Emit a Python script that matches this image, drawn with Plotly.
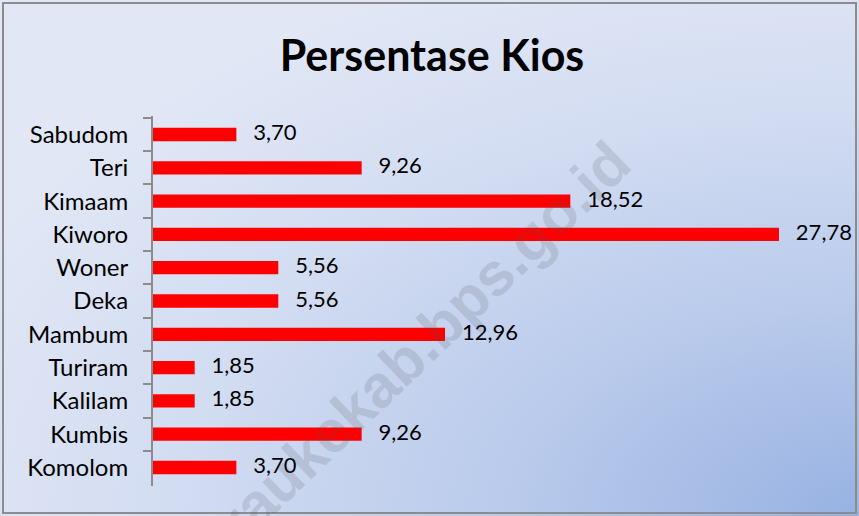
import plotly.graph_objects as go
import urllib.parse

categories = ["Sabudom", "Teri", "Kimaam", "Kiworo", "Woner", "Deka",
              "Mambum", "Turiram", "Kalilam", "Kumbis", "Komolom"]
values = [3.70, 9.26, 18.52, 27.78, 5.56, 5.56, 12.96, 1.85, 1.85, 9.26, 3.70]
labels = [f"{v:.2f}".replace(".", ",") for v in values]

W, H = 859, 516
L, R, T, B = 153, 30, 116, 30
pw, ph = W - L - R, H - T - B

svg = (
    f'<svg xmlns="http://www.w3.org/2000/svg" width="{W}" height="{H}" preserveAspectRatio="none">'
    '<defs><radialGradient id="g" cx="1" cy="1" r="1.15" fx="1" fy="1" gradientUnits="objectBoundingBox">'
    '<stop offset="0" stop-color="#97b2e2"/>'
    '<stop offset="0.35" stop-color="#b9caeb"/>'
    '<stop offset="0.7" stop-color="#d3ddf2"/>'
    '<stop offset="1" stop-color="#e1e7f5"/>'
    '</radialGradient></defs>'
    f'<rect x="0" y="0" width="{W}" height="{H}" fill="url(#g)"/></svg>'
)
src = "data:image/svg+xml;charset=utf-8," + urllib.parse.quote(svg)

FONT = "Lato"

fig = go.Figure()
fig.add_trace(go.Bar(
    x=values, y=categories, orientation="h",
    marker=dict(color="#ff0000", line=dict(width=0)),
    width=0.4, hoverinfo="x+y",
))
fig.add_trace(go.Scatter(
    x=values, y=categories, mode="text",
    text=["   " + s for s in labels], textposition="middle right",
    textfont=dict(family=FONT, size=22, color="#000000"),
    hoverinfo="skip", showlegend=False, cliponaxis=False,
))

def px_to_paper_x(px):
    return (px - L) / pw

def py_to_paper_y(py):
    return 1 - (py - T) / ph

fig.update_layout(
    width=W, height=H,
    margin=dict(l=L, r=R, t=T, b=B),
    paper_bgcolor="#d6dff2",
    plot_bgcolor="rgba(0,0,0,0)",
    showlegend=False,
    title=dict(text="<b>Persentase Kios</b>", x=432 / W, xref="container", xanchor="center",
               y=1 - 56 / H, yref="container", yanchor="middle",
               font=dict(family=FONT, size=43, color="#000000")),
    xaxis=dict(range=[0, 30], visible=False, fixedrange=True),
    yaxis=dict(autorange="reversed", type="category",
               showline=True, linecolor="#8c8c8c", linewidth=2,
               ticks="outside", tickson="boundaries", ticklen=8, tickwidth=2,
               tickcolor="#8c8c8c", showgrid=False,
               tickfont=dict(family=FONT, size=24, color="#000000"),
               ticklabelstandoff=18),
    images=[dict(source=src, xref="paper", yref="paper",
                 x=px_to_paper_x(0), y=py_to_paper_y(0),
                 sizex=W / pw, sizey=H / ph, sizing="stretch",
                 xanchor="left", yanchor="top", layer="below", opacity=1)],
    shapes=[dict(type="rect", xref="paper", yref="paper",
                 x0=px_to_paper_x(3), x1=px_to_paper_x(856),
                 y0=py_to_paper_y(3), y1=py_to_paper_y(513),
                 line=dict(color="#8c8c8c", width=2), fillcolor="rgba(0,0,0,0)",
                 layer="above")],
    annotations=[dict(text="<b>meraukekab.bps.go.id</b>", xref="paper", yref="paper",
                      x=px_to_paper_x(392), y=py_to_paper_y(372),
                      xanchor="center", yanchor="middle",
                      showarrow=False, textangle=-44,
                      font=dict(family="Liberation Sans", size=60, color="rgba(80,80,90,0.16)"))],
)

fig.write_html("out.html", config={"displayModeBar": False},
               post_script="document.body.style.margin='0';document.body.style.overflow='hidden';")
